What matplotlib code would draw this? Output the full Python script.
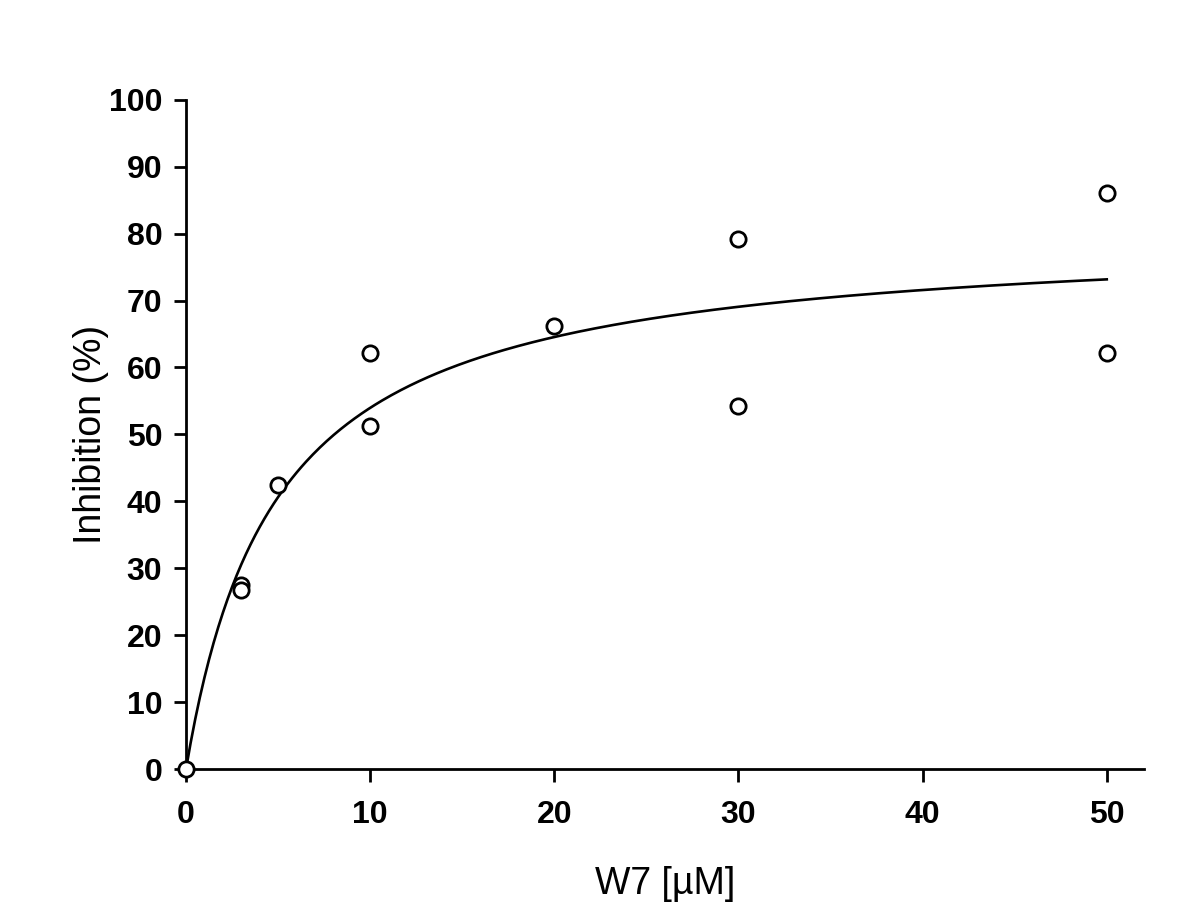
import numpy as np
import matplotlib.pyplot as plt

plt.rcParams['font.family'] = ['Liberation Sans', 'DejaVu Sans']

# measured points
w7_conc = [0, 3, 3, 5, 10, 10, 20, 30, 30, 50, 50]
inhibition = [0, 27.5, 26.7, 42.5, 62.2, 51.2, 66.2, 79.2, 54.2, 86.0, 62.2]

# hyperbolic fit: Imax * x / (K + x)
fit_imax = 80.3
fit_k = 4.88

x_ticks = [0, 10, 20, 30, 40, 50]
y_ticks = [0, 10, 20, 30, 40, 50, 60, 70, 80, 90, 100]

fig = plt.figure(figsize=(12, 9.06), dpi=100)
ax = fig.add_axes([0.155, 0.151, 0.798, 0.739])

xs = np.linspace(0, max(w7_conc), 400)
ax.plot(xs, fit_imax * xs / (fit_k + xs), color='black', lw=1.9, zorder=2)
ax.plot(w7_conc, inhibition, 'o', ms=11, mfc='white', mec='black', mew=2,
        zorder=3, clip_on=False)

ax.set_xlim(0, 52)
ax.set_ylim(0, 100)
ax.set_xticks(x_ticks, labels=[str(t) for t in x_ticks], fontsize=23, fontweight='bold')
ax.set_yticks(y_ticks, labels=[str(t) for t in y_ticks], fontsize=23, fontweight='bold')

for s in ['top', 'right']:
    ax.spines[s].set_visible(False)
for s in ['left', 'bottom']:
    ax.spines[s].set_linewidth(2)

ax.tick_params(direction='out', length=9, width=2, pad=8)
ax.tick_params(axis='x', pad=13)

ax.set_xlabel('W7 [µM]', fontsize=27, labelpad=26)
ax.set_ylabel('Inhibition (%)', fontsize=27, labelpad=0)

fig.savefig('out.png', dpi=100, facecolor='white')
